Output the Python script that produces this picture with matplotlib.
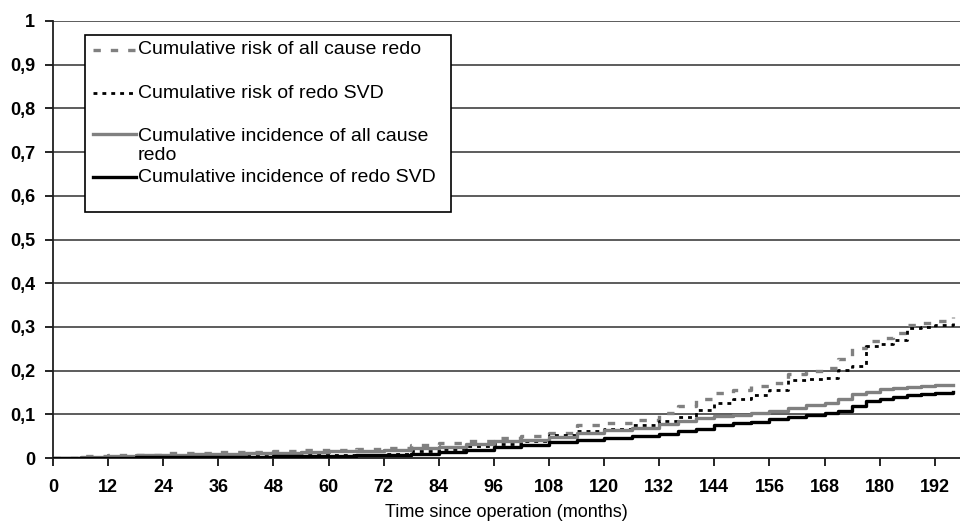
import matplotlib
matplotlib.use("Agg")
import matplotlib.pyplot as plt
from matplotlib.lines import Line2D
from matplotlib.patches import Rectangle

plt.rcParams['font.family'] = ['Liberation Sans', 'DejaVu Sans']

# months since operation (step points)
months = [0, 6, 12, 18, 24, 30, 36, 42, 48, 54, 60, 66, 72, 78, 84, 90, 96, 102,
          108, 114, 120, 126, 132, 136, 140, 144, 148, 152, 156, 160, 164, 168,
          171, 174, 177, 180, 183, 186, 189, 192, 196]

# cumulative risk of all cause redo
risk_all = [0, 0.004, 0.006, 0.008, 0.011, 0.012, 0.013, 0.014, 0.015, 0.018, 0.019,
            0.021, 0.024, 0.030, 0.034, 0.040, 0.045, 0.050, 0.058, 0.075, 0.080,
            0.088, 0.104, 0.118, 0.134, 0.148, 0.156, 0.165, 0.172, 0.192, 0.200,
            0.206, 0.226, 0.252, 0.268, 0.275, 0.285, 0.305, 0.308, 0.314, 0.322]

# cumulative risk of redo SVD
risk_svd = [0, 0.001, 0.002, 0.002, 0.003, 0.003, 0.004, 0.004, 0.005, 0.006, 0.007,
            0.008, 0.010, 0.015, 0.020, 0.027, 0.033, 0.040, 0.053, 0.062, 0.066,
            0.075, 0.085, 0.095, 0.111, 0.125, 0.136, 0.145, 0.155, 0.178, 0.180,
            0.183, 0.202, 0.210, 0.256, 0.262, 0.270, 0.298, 0.300, 0.305, 0.310]

# cumulative incidence of all cause redo
inc_all = [0, 0.003, 0.005, 0.007, 0.008, 0.009, 0.010, 0.011, 0.012, 0.014, 0.015,
           0.017, 0.019, 0.022, 0.026, 0.032, 0.038, 0.042, 0.048, 0.058, 0.063,
           0.069, 0.077, 0.084, 0.092, 0.097, 0.099, 0.102, 0.108, 0.115, 0.121,
           0.126, 0.135, 0.146, 0.152, 0.157, 0.161, 0.163, 0.165, 0.167, 0.168]

# cumulative incidence of redo SVD
inc_svd = [0, 0.001, 0.001, 0.002, 0.002, 0.003, 0.003, 0.003, 0.004, 0.005, 0.005,
           0.006, 0.007, 0.010, 0.013, 0.018, 0.025, 0.030, 0.036, 0.042, 0.046,
           0.050, 0.056, 0.062, 0.067, 0.075, 0.079, 0.083, 0.089, 0.095, 0.099,
           0.102, 0.108, 0.118, 0.130, 0.135, 0.140, 0.145, 0.147, 0.149, 0.150]

x_ticks = list(range(0, 193, 12))
y_ticks = [0, 0.1, 0.2, 0.3, 0.4, 0.5, 0.6, 0.7, 0.8, 0.9, 1.0]
y_labels = ["0", "0,1", "0,2", "0,3", "0,4", "0,5", "0,6", "0,7", "0,8", "0,9", "1"]

GRAY = "#808080"

fig = plt.figure(figsize=(9.6, 5.3), dpi=100)
ax = fig.add_axes([0.0552, 0.1358, 0.9448, 0.8246])

#series styles
styles = [
    (risk_all, dict(color=GRAY, lw=2.4, dashes=(2.2, 3.0)), "Cumulative risk of all cause redo"),
    (risk_svd, dict(color="black", lw=2.0, dashes=(1.4, 1.8)), "Cumulative risk of redo SVD"),
    (inc_all, dict(color=GRAY, lw=2.4), "Cumulative incidence of all cause\nredo"),
    (inc_svd, dict(color="black", lw=2.4), "Cumulative incidence of redo SVD"),
]
for vals, kw, _ in styles:
    ax.plot(months, vals, drawstyle="steps-post", zorder=3, **kw)

ax.set_xlim(0, 197.5)
ax.set_ylim(0, 1)
ax.set_xticks(x_ticks)
ax.set_yticks(y_ticks)
ax.set_yticklabels(y_labels)
ax.tick_params(axis="both", direction="out", length=6, width=1.2, labelsize=13, colors="black")
ax.tick_params(axis="x", pad=9)
ax.tick_params(axis="y", pad=7)
for lab in ax.get_xticklabels() + ax.get_yticklabels():
    lab.set_fontweight("bold")
for yv in y_ticks[1:]:
    ax.axhline(yv, color="#303030", lw=1.1, zorder=1)
for s in ["top", "right"]:
    ax.spines[s].set_visible(False)
for s in ["left", "bottom"]:
    ax.spines[s].set_linewidth(1.3)
    ax.spines[s].set_color("#202020")

ax.set_xlabel("Time since operation (months)", fontsize=13, labelpad=6)

#hand-made legend box to mimic the original layout
ax.add_patch(Rectangle((0.0353, 0.563), 0.4035, 0.405, transform=ax.transAxes,
                       facecolor="white", edgecolor="black", lw=1.2, zorder=5))
entry_y = [0.934, 0.835, 0.741, 0.643]
text_y = [0.934, 0.835, 0.715, 0.643]
for (vals, kw, label), ly, ty in zip(styles, entry_y, text_y):
    ax.add_line(Line2D([0.0441, 0.0915], [ly, ly], transform=ax.transAxes, zorder=6, **kw))
    ax.text(0.0937, ty, label, transform=ax.transAxes, fontsize=14, va="center",
            ha="left", linespacing=1.15, zorder=6)

fig.savefig("out.png", dpi=100)
